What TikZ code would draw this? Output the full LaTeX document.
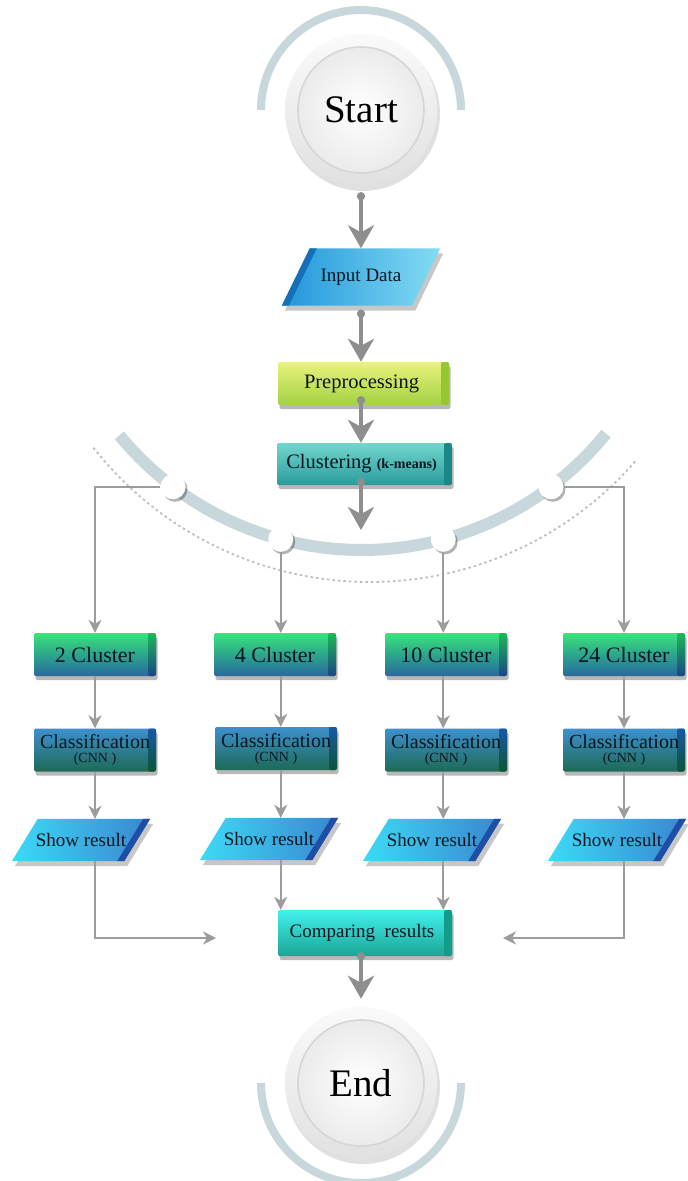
\documentclass[tikz,border=0pt]{standalone}
\usepackage{fontspec}
\setmainfont{Liberation Serif}
\usetikzlibrary{arrows.meta,shadows,calc,backgrounds}
\definecolor{band}{HTML}{C8D7DC}
\definecolor{agray}{HTML}{8E8E8E}
\definecolor{lgray}{HTML}{9C9C9C}
\definecolor{txt}{HTML}{0B1620}
\definecolor{preT}{HTML}{E9F27C}
\definecolor{preB}{HTML}{A2D244}
\definecolor{preS}{HTML}{96C632}
\definecolor{cluT}{HTML}{72D6CE}
\definecolor{cluB}{HTML}{2A9C9C}
\definecolor{cluS}{HTML}{1C8886}
\definecolor{kT}{HTML}{3CE47C}
\definecolor{kM}{HTML}{2BA68C}
\definecolor{kB}{HTML}{2A689E}
\definecolor{kST}{HTML}{1CB858}
\definecolor{kSB}{HTML}{1A4684}
\definecolor{cT}{HTML}{3E90CE}
\definecolor{cB}{HTML}{1D6A56}
\definecolor{cST}{HTML}{1858A6}
\definecolor{cSB}{HTML}{0B5636}
\definecolor{sL}{HTML}{3CDAF6}
\definecolor{sR}{HTML}{3A86D0}
\definecolor{sS}{HTML}{1E4EA6}
\definecolor{iL}{HTML}{2196DA}
\definecolor{iR}{HTML}{84DCF4}
\definecolor{iS}{HTML}{1670B8}
\definecolor{mT}{HTML}{40F2EC}
\definecolor{mB}{HTML}{1CA496}
\definecolor{mS}{HTML}{129C8A}
\begin{document}
\begin{tikzpicture}[x=1pt,y=1pt,
 box/.style={rectangle, rounded corners=2pt, inner sep=0pt, text=txt,
   drop shadow={shadow xshift=1.5pt, shadow yshift=-4pt, opacity=.28, fill=black}},
 side/.style 2 args={path picture={\shade[top color=#1, bottom color=#2]
   ([xshift=-8pt]path picture bounding box.north east) rectangle (path picture bounding box.south east);}},
 kbox/.style={box, minimum width=122pt, minimum height=43pt, top color=kT, bottom color=kB, middle color=kM,
   side={kST}{kSB}, font=\fontsize{22}{24}\selectfont},
 cbox/.style={box, minimum width=122pt, minimum height=43pt, top color=cT, bottom color=cB,
   side={cST}{cSB}, font=\fontsize{20}{14}\selectfont, align=center},
 para/.style={rectangle, inner sep=0pt, minimum width=112pt, minimum height=42pt, text=txt,
   font=\fontsize{19}{21}\selectfont},
 dotn/.style={circle, fill=white, inner sep=0pt, minimum size=25pt,
   drop shadow={shadow xshift=2pt, shadow yshift=-2.5pt, opacity=.3, fill=black}},
 bigarrow/.style={draw=agray, line width=4.5pt, {Circle[length=8pt,width=8pt]}-{Stealth[length=23pt,width=26pt,inset=7pt]}},
 thinarrow/.style={draw=lgray, line width=1.8pt, -{Stealth[length=13pt,width=13pt,inset=4pt]}}
]
\useasboundingbox (0,0) rectangle (688,-1181);

% ---- Start ----
\coordinate (S) at (361,-110);
\draw[band, line width=8pt] (261,-110) arc[start angle=180, end angle=0, radius=100];
\fill[black, opacity=.12] (363,-114) circle (77);
\shade[top color=gray!4, bottom color=gray!24] (S) circle (76);
\shade[inner color=white, outer color=gray!16] (S) circle (63);
\draw[gray!32, line width=1.6pt] (S) circle (63);
\node[circle, minimum size=152pt, inner sep=0pt, text=black, font=\fontsize{39}{41}\selectfont] (start) at (S) {Start};

% ---- End ----
\coordinate (E) at (361,-1083);
\draw[band, line width=8pt] (261,-1083) arc[start angle=180, end angle=360, radius=100];
\fill[black, opacity=.12] (363,-1087) circle (77);
\shade[top color=gray!4, bottom color=gray!24] (E) circle (76);
\shade[inner color=white, outer color=gray!16] (E) circle (63);
\draw[gray!32, line width=1.6pt] (E) circle (63);
\node[circle, minimum size=152pt, inner sep=0pt, text=black, font=\fontsize{39}{41}\selectfont] (fin) at (E) {End};

% ---- big arc ----
\coordinate (C) at (362,-236);
\draw[gray!50, line width=1.8pt, dash pattern=on 2.5pt off 3pt]
  ($(370,-230)+(218.2:352)$) arc[start angle=218.2, end angle=319.2, radius=352];
\draw[band, line width=12pt] ($(C)+(219.4:314)$) arc[start angle=219.4, end angle=321, radius=314];

% ---- top chain ----
\node[para, minimum width=130pt, minimum height=57pt] (inp) at (361,-277) {Input Data};
\node[box, minimum width=171pt, minimum height=43pt, top color=preT, bottom color=preB, side={preS}{preS},
  font=\fontsize{20.5}{22}\selectfont] (pre) at (363.5,-383.5) {Preprocessing\kern4pt};
\node[box, minimum width=175pt, minimum height=42pt, top color=cluT, bottom color=cluB, side={cluS}{cluS},
  font=\fontsize{20.5}{22}\selectfont] (clu) at (364.5,-464) {Clustering {\fontsize{14}{15}\selectfont\bfseries (k-means)}\kern6pt};

% ---- columns ----
\node[kbox] (c2)  at (95,-654.5)  {2 Cluster};
\node[kbox] (c4)  at (275,-654.5) {4 Cluster};
\node[kbox] (c10) at (446,-654.5) {10 Cluster};
\node[kbox] (c24) at (624,-654.5) {24 Cluster};

\node[cbox] (k2)  at (95,-750)  {Classification\\{\fontsize{14}{15}\selectfont (CNN )}};
\node[cbox] (k4)  at (276,-748.5) {Classification\\{\fontsize{14}{15}\selectfont (CNN )}};
\node[cbox] (k10) at (446,-750) {Classification\\{\fontsize{14}{15}\selectfont (CNN )}};
\node[cbox] (k24) at (624,-750) {Classification\\{\fontsize{14}{15}\selectfont (CNN )}};

\node[para] (s2)  at (81,-840)  {Show result};
\node[para] (s4)  at (269,-839) {Show result};
\node[para] (s10) at (432,-840) {Show result};
\node[para] (s24) at (617,-840) {Show result};

\node[box, minimum width=174pt, minimum height=46pt, top color=mT, bottom color=mB, side={mS}{mS},
  font=\fontsize{19}{21}\selectfont] (cmp) at (365,-933) {Comparing~~results\kern6pt};

% ---- dots on arc ----
\foreach \a/\n in {233/d1,255/d2,285/d3,307/d4}
  \node[dotn] (\n) at ($(C)+(\a:314)$) {};

% ---- parallelogram bodies (background) ----
\begin{scope}[on background layer]
\fill[white] (0,0) rectangle (688,-1181);
\fill[black, opacity=.22] ($(inp.south west)+(-11,-5)$) -- ($(inp.north west)+(17,-5)$) -- ($(inp.north east)+(17,-5)$) -- ($(inp.south east)+(-11,-5)$) -- cycle;
\shade[left color=iL, right color=iR] ($(inp.south west)+(-14,0)$) -- ($(inp.north west)+(14,0)$) -- ($(inp.north east)+(14,0)$) -- ($(inp.south east)+(-14,0)$) -- cycle;
\fill[iS] ($(inp.south west)+(-14,0)$) -- ($(inp.north west)+(14,0)$) -- ($(inp.north west)+(21,0)$) -- ($(inp.south west)+(-7,0)$) -- cycle;
\foreach \n in {s2,s4,s10,s24}{
  \fill[black, opacity=.22] ($(\n.south west)+(-10,-5)$) -- ($(\n.north west)+(16,-5)$) -- ($(\n.north east)+(16,-5)$) -- ($(\n.south east)+(-10,-5)$) -- cycle;
  \shade[left color=sL, right color=sR] ($(\n.south west)+(-13,0)$) -- ($(\n.north west)+(13,0)$) -- ($(\n.north east)+(13,0)$) -- ($(\n.south east)+(-13,0)$) -- cycle;
  \fill[sS] ($(\n.north east)+(6,0)$) -- ($(\n.north east)+(13,0)$) -- ($(\n.south east)+(-13,0)$) -- ($(\n.south east)+(-20,0)$) -- cycle;
}
\end{scope}

% ---- big arrows ----
\coordinate (cf) at (361,-530);
\draw[bigarrow] ($(start.south)+(0,-6)$) -- (inp.north);
\draw[bigarrow] ($(inp.south)+(0,-4)$) -- (pre.north -| inp);
\draw[bigarrow] ($(pre.south -| inp)+(0,9)$) -- (clu.north -| inp);
\draw[bigarrow] ($(clu.south -| inp)+(0,7)$) -- (cf);
\draw[bigarrow] ($(cmp.south -| inp)+(0,4)$) -- ($(fin.north)+(0,8)$);

% ---- thin connectors ----
\draw[thinarrow] (d1) -| (c2.north);
\draw[thinarrow] (d2) -- (d2 |- c4.north);
\draw[thinarrow] (d3) -- (d3 |- c10.north);
\draw[thinarrow] (d4) -| (c24.north);

\draw[thinarrow] (c2) -- (k2);
\draw[thinarrow] (c4.south -| d2) -- (k4.north -| d2);
\draw[thinarrow] (c10.south -| d3) -- (k10.north -| d3);
\draw[thinarrow] (c24) -- (k24);

\draw[thinarrow] (k2.south) -- (k2.south |- s2.north);
\draw[thinarrow] (k4.south -| d2) -- (s4.north -| d2);
\draw[thinarrow] (k10.south -| d3) -- (s10.north -| d3);
\draw[thinarrow] (k24.south) -- (k24.south |- s24.north);

\coordinate (m1) at (216,-938);
\coordinate (m2) at (503,-938);
\draw[thinarrow] (s2.south -| k2) |- (m1);
\draw[thinarrow] (s24.south -| k24) |- (m2);
\draw[thinarrow] (s4.south -| d2) -- (cmp.north -| d2);
\draw[thinarrow] (s10.south -| d3) -- (cmp.north -| d3);
\end{tikzpicture}
\end{document}
